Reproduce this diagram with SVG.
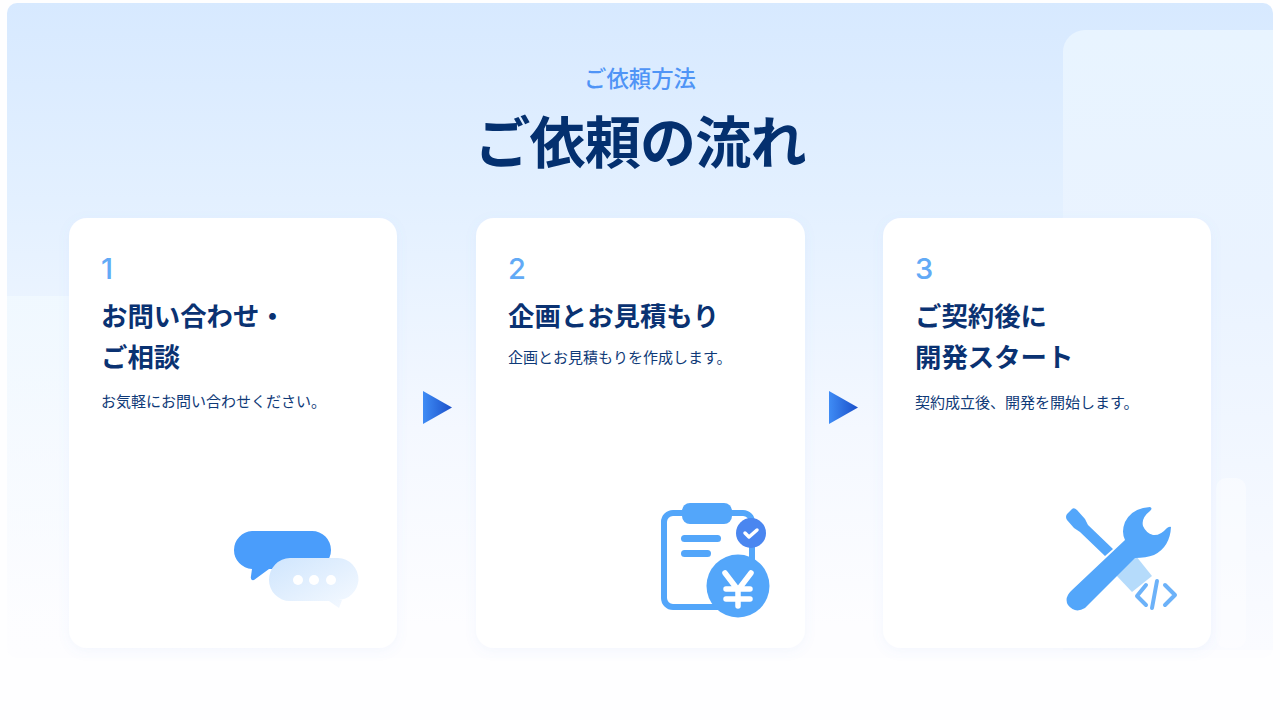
<svg xmlns="http://www.w3.org/2000/svg" width="1280" height="720" viewBox="0 0 1280 720">
<style>
text{font-family:Inter,"Noto Sans CJK JP",sans-serif}
.num{font-size:29px;fill:#62aaf6;font-weight:500}
.ttl{font-size:26.400px;font-weight:700;fill:#0a3272}
.desc{font-size:15px;fill:#0f3a78;font-weight:400}
.card{fill:#fff;filter:url(#sh)}
.ic{fill:#53a6fa}
</style>
<defs>
<linearGradient id="bg" x1="0" y1="0" x2="0" y2="1"><stop offset="0" stop-color="#d7e9ff"/><stop offset=".3" stop-color="#e3f0ff"/><stop offset=".65" stop-color="#f4f8ff"/><stop offset=".95" stop-color="#fdfdff"/></linearGradient>
<linearGradient id="ov" x1="0" y1="0" x2="0" y2="1"><stop offset="0" stop-color="#f1f9ff"/><stop offset="1" stop-color="#fdfdff" stop-opacity=".4"/></linearGradient>
<linearGradient id="tr" x1="0" y1="0" x2="0" y2="1"><stop offset="0" stop-color="#e8f4ff"/><stop offset=".4" stop-color="#eaf3ff"/><stop offset="1" stop-color="#fafbff"/></linearGradient>
<linearGradient id="arrow" x1="0" y1="0" x2="1" y2="0"><stop offset="0" stop-color="#3f8cf5"/><stop offset="1" stop-color="#1a4fc9"/></linearGradient>
<linearGradient id="bub" x1="0" y1="0" x2="1" y2="1"><stop offset="0" stop-color="#cfe5fd"/><stop offset="1" stop-color="#f6faff"/></linearGradient>
<filter id="sh" x="-15%" y="-15%" width="130%" height="130%"><feDropShadow dx="0" dy="3" stdDeviation="6" flood-color="#6a9ce6" flood-opacity=".07"/></filter>
</defs>
<rect width="1280" height="720" fill="#fefeff"/>
<g id="background">
<rect x="7" y="3" width="1266" height="655" rx="10" fill="url(#bg)"/>
<path d="M7 296H300V655H7Z" fill="url(#ov)" opacity=".85"/>
<path d="M1273 30H1085a22 22 0 0 0-22 22V650H1273Z" fill="url(#tr)"/>
<rect x="1216" y="478" width="30" height="170" rx="10" fill="#fff" opacity=".4"/>
</g>
<g id="header">
<text x="640" y="87" text-anchor="middle" font-size="22.400" font-weight="500" fill="#4f94f6">ご依頼方法</text>
<text x="640" y="163" text-anchor="middle" font-size="56" font-weight="700" letter-spacing="-.8" fill="#04306f">ご依頼の流れ</text>
</g>
<g id="connectors">
<path d="M423 391L452 407.500L423 424Z" fill="url(#arrow)"/>
<path d="M829 391L858 407.500L829 424Z" fill="url(#arrow)"/>
</g>
<g id="step-1">
<rect class="card" x="69" y="218" width="328" height="430" rx="18"/>
<text class="num" x="101" y="279">1</text>
<text class="ttl" x="101" y="326">お問い合わせ・</text>
<text class="ttl" x="101" y="367">ご相談</text>
<text class="desc" x="101" y="407">お気軽にお問い合わせください。</text>
<path d="M252 531H312a19 19 0 0 1 19 19v0a19 19 0 0 1-19 19H269L254 580Q250 581 251 576L252 569a19 19 0 0 1-18-19v0a19 19 0 0 1 18-19Z" fill="#4a9dfb"/>
<path d="M290 558H338a20.500 22 0 0 1 20.500 22v0a20.500 22 0 0 1-20.500 20H342L339 608Q336 606 329 601H290a21 21 0 0 1-21-21v0a21 22 0 0 1 21-22Z" fill="url(#bub)"/>
<circle cx="298" cy="580" r="5" fill="#fff"/><circle cx="314" cy="580" r="5" fill="#fff"/><circle cx="331" cy="580" r="5" fill="#fff"/>
</g>
<g id="step-2">
<rect class="card" x="476" y="218" width="329" height="430" rx="18"/>
<text class="num" x="508" y="279">2</text>
<text class="ttl" x="508" y="326">企画とお見積もり</text>
<text class="desc" x="508" y="363">企画とお見積もりを作成します。</text>
<rect x="664" y="513" width="88" height="94" rx="9" fill="#fff" stroke="#53a6fa" stroke-width="6"/>
<rect x="682" y="503" width="50" height="21" rx="8" class="ic"/>
<rect x="681" y="535" width="40" height="7" rx="3.500" class="ic"/>
<rect x="681" y="550" width="30" height="7" rx="3.500" class="ic"/>
<circle cx="738" cy="586" r="31.500" class="ic"/>
<circle cx="751" cy="533" r="15" fill="#4a86f0"/>
<path d="M745 533L749 537L757 530" fill="none" stroke="#fff" stroke-width="3.500" stroke-linecap="round" stroke-linejoin="round"/>
<path d="M725 573L738 590L751 573M726 589H750M726 599H750M738 589V606" fill="none" stroke="#fff" stroke-width="5.500" stroke-linecap="round" stroke-linejoin="round"/>
</g>
<g id="step-3">
<rect class="card" x="883" y="218" width="328" height="430" rx="18"/>
<text class="num" x="915" y="279">3</text>
<text class="ttl" x="915" y="326">ご契約後に</text>
<text class="ttl" x="915" y="367">開発スタート</text>
<text class="desc" x="915" y="408">契約成立後、開発を開始します。</text>
<path d="M1136 556L1152 576L1132 592L1116 575Z" fill="#b5dbfb"/>
<path class="ic" d="M1067 514L1072 509Q1074 507 1077 510L1085 519L1088 525L1113 549L1105 556L1080 532L1074 528L1067 520Q1065 517 1067 514Z"/>
<path class="ic" d="M1150 507Q1132 508 1125 522Q1121 532 1125 540L1071 591Q1064 598 1068 605Q1075 614 1085 608L1135 558Q1146 558 1154 555Q1170 547 1171 527Q1170 526 1167 528Q1160 536 1153 535Q1146 533 1143 526Q1141 518 1150 511Q1153 508 1150 507Z"/>
<path d="M1146 585L1137 596L1146 605M1165 585L1175 595L1165 605M1157 581L1152 608" fill="none" stroke="#6cb2f9" stroke-width="4" stroke-linecap="round" stroke-linejoin="round"/>
</g>
</svg>
